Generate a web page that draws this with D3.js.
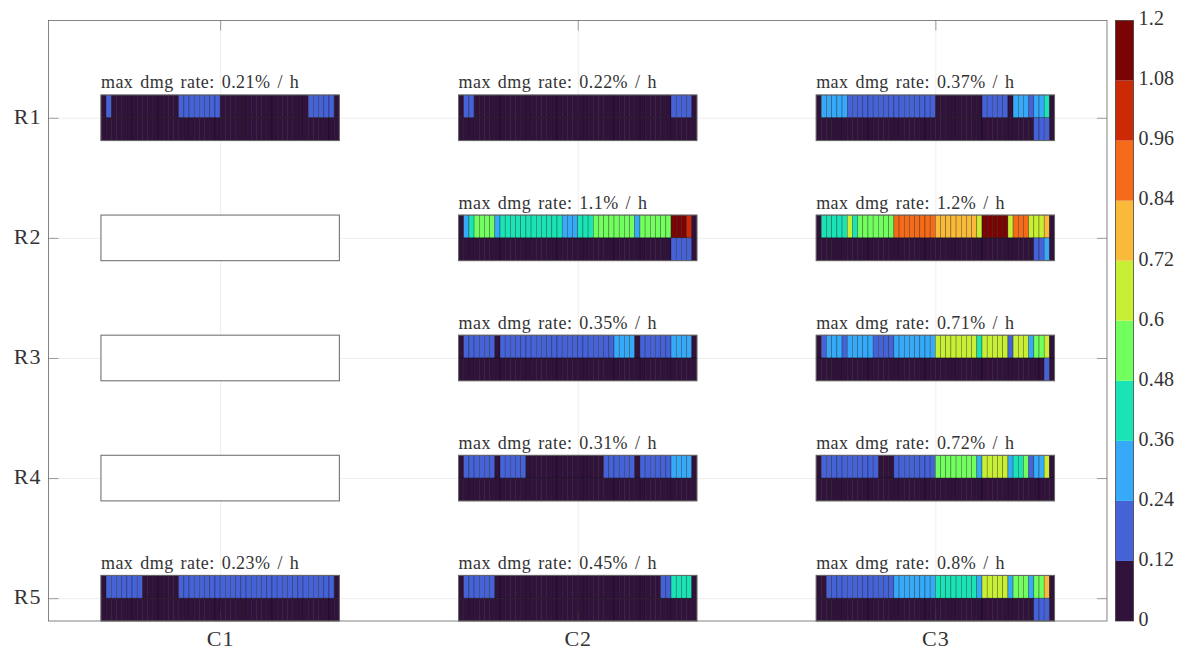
<!DOCTYPE html>
<html>
<head>
<meta charset="utf-8">
<script src="https://cdn.jsdelivr.net/npm/d3@7"></script>
<style>
  html, body { margin: 0; padding: 0; background: #fff; }
  text { font-family: "Liberation Serif", serif; fill: #333; }
  .grid line { stroke: #000; stroke-opacity: 0.07; }
  .axis path { display: none; }
  .axis line { stroke: #444; stroke-width: 0.5; }
  .axis text { font-size: 22px; letter-spacing: 1px; }
  .title { font-size: 18px; letter-spacing: 0.45px; word-spacing: 2px; }
  .cell { stroke: #000; stroke-opacity: 0.55; stroke-width: 0.5; }
  .outline { fill: none; stroke: #666; stroke-width: 1; }
  .cbar-label { font-size: 20px; letter-spacing: 0.2px; }
</style>
</head>
<body>
<div id="chart"></div>
<script>
const colNames = ['C1', 'C2', 'C3'];
const rowNames = ['R1', 'R2', 'R3', 'R4', 'R5'];
const colorTicks = [0, 0.12, 0.24, 0.36, 0.48, 0.6, 0.72, 0.84, 0.96, 1.08, 1.2];
const palette = ['#30123b', '#4662d7', '#36aaf9', '#1ae4b6', '#72fe5e',
  '#c8ef34', '#faba39', '#f66b19', '#cb2a04', '#7a0403'];

// one digit per cell = colour bin of the damage rate, top row then bottom row
const zeros = '0000000000000000000000000000000000000000000000';
const r1c1 = ['0100000000000001111111100000000000000000111110', zeros];
const r1c2 = ['0110000000000000000000000000000000000000011110', zeros];
const r1c3 = ['0222221111111111111111100000000011111022212230',
  '0000000000000000000000000000000000000000001110'];
const r2c2 = ['0234444233333333333322233344444444244444499980',
  '0000000000000000000000000000000000000000011110'];
const r2c3 = ['0333335344444447777777766666666599999577755560',
  '0000000000000000000000000000000000000000001120'];
const r3c2 = ['0111111011111111111111111111112222011111122220', zeros];
const r3c3 = ['0122212222211112222222255555555355555155524450',
  '0000000000000000000000000000000000000000000010'];
const r4c2 = ['0111111011111000000000000000111111011111122220', zeros];
const r4c3 = ['0111111111110001111111144444444255555233412250', zeros];
const r5c1 = ['0111111100000001111111111111111111111111111110', zeros];
const r5c2 = ['0111111000000000000000000000000000000001133330', zeros];
const r5c3 = ['0011111111111112222222233333333255555244424460',
  '0000000000000000000000000000000000000000001110'];

const grids = [
  [r1c1, r1c2, r1c3],
  [null, r2c2, r2c3],
  [null, r3c2, r3c3],
  [null, r4c2, r4c3],
  [r5c1, r5c2, r5c3],
];
const titles = [
  ['0.21', '0.22', '0.37'],
  [null, '1.1', '1.2'],
  [null, '0.35', '0.71'],
  [null, '0.31', '0.72'],
  ['0.23', '0.45', '0.8'],
];

const width = 1183, height = 651;
const margin = { top: 20.5, right: 76, bottom: 30, left: 48.5 };
const innerWidth = width - margin.left - margin.right;
const innerHeight = height - margin.top - margin.bottom;

const svg = d3.select('#chart').append('svg')
  .attr('width', width)
  .attr('height', height)
  .style('display', 'block');

const g = svg.append('g')
  .attr('transform', `translate(${margin.left},${margin.top})`);

const x = d3.scaleLinear().domain([0.52, 3.48]).range([0, innerWidth]);
const y = d3.scaleLinear().domain([0.19, 5.19]).range([0, innerHeight]);
const halfW = 1 / 3, halfH = 0.19;
const colTicks = colNames.map((d, i) => i + 1);
const rowTicks = rowNames.map((d, i) => i + 1);

const color = d3.scaleOrdinal().domain(d3.range(10)).range(palette);

const noLabels = (s) => s.selectAll('text').remove();

// grid
g.append('g').attr('class', 'grid')
  .attr('transform', `translate(0,${innerHeight})`)
  .call(d3.axisBottom(x).tickValues(colTicks).tickSize(-innerHeight))
  .call(noLabels)
  .select('.domain').remove();
g.append('g').attr('class', 'grid')
  .call(d3.axisLeft(y).tickValues(rowTicks).tickSize(-innerWidth))
  .call(noLabels)
  .select('.domain').remove();

// panels
grids.forEach((row, i) => {
  row.forEach((rows, j) => {
    const cx = j + 1, cy = i + 1;
    const px = d3.scaleLinear().domain([0, 46]).range([x(cx - halfW), x(cx + halfW)]);
    const py = d3.scaleLinear().domain([0, 2]).range([y(cy - halfH), y(cy + halfH)]);
    const panel = g.append('g').attr('class', 'panel');

    if (!rows) {
      panel.append('rect')
        .attr('x', px(0))
        .attr('y', py(0))
        .attr('width', px(46) - px(0))
        .attr('height', py(2) - py(0))
        .attr('fill', '#fff');
    } else {
      rows.forEach((levels, r) => {
        panel.selectAll(null)
          .data(Array.from(levels, Number))
          .join('rect')
          .attr('class', 'cell')
          .attr('x', (d, k) => px(k))
          .attr('y', py(r))
          .attr('width', px(1) - px(0))
          .attr('height', py(1) - py(0))
          .attr('fill', (d) => color(d));
      });
      panel.append('text')
        .attr('class', 'title')
        .attr('x', px(0))
        .attr('y', py(0) - 6.5)
        .text(`max dmg rate: ${titles[i][j]}% / h`);
    }

    panel.append('rect')
      .attr('class', 'outline')
      .attr('x', px(0))
      .attr('y', py(0))
      .attr('width', px(46) - px(0))
      .attr('height', py(2) - py(0));
  });
});

// Add the axes, ticks on all four sides
g.append('g').attr('class', 'axis')
  .attr('transform', `translate(0,${innerHeight})`)
  .call(d3.axisBottom(x).tickValues(colTicks).tickSize(-10).tickPadding(9)
    .tickFormat((d, i) => colNames[i]));
g.append('g').attr('class', 'axis')
  .call(d3.axisTop(x).tickValues(colTicks).tickSize(-10))
  .call(noLabels);
g.append('g').attr('class', 'axis')
  .call(d3.axisLeft(y).tickValues(rowTicks).tickSize(-10).tickPadding(7)
    .tickFormat((d, i) => rowNames[i]))
  .call((s) => s.selectAll('text').attr('dy', '0.25em'));
g.append('g').attr('class', 'axis')
  .attr('transform', `translate(${innerWidth},0)`)
  .call(d3.axisRight(y).tickValues(rowTicks).tickSize(-10))
  .call(noLabels);
g.append('rect')
  .attr('width', innerWidth)
  .attr('height', innerHeight)
  .attr('fill', 'none')
  .attr('stroke', '#666')
  .attr('stroke-width', 0.8);

// colorbar
const barX = 1115.5, barW = 18;
const barY = d3.scaleLinear().domain([0, 1.2]).range([margin.top + innerHeight, margin.top]);
const bar = svg.append('g').attr('class', 'colorbar');

bar.selectAll('rect')
  .data(palette)
  .join('rect')
  .attr('x', barX)
  .attr('y', (d, i) => barY(colorTicks[i + 1]))
  .attr('width', barW)
  .attr('height', (d, i) => barY(colorTicks[i]) - barY(colorTicks[i + 1]))
  .attr('fill', (d) => d);

bar.append('rect')
  .attr('x', barX)
  .attr('y', barY(1.2))
  .attr('width', barW)
  .attr('height', barY(0) - barY(1.2))
  .attr('fill', 'none')
  .attr('stroke', '#333')
  .attr('stroke-width', 0.7);

bar.selectAll('text')
  .data(colorTicks)
  .join('text')
  .attr('class', 'cbar-label')
  .attr('x', barX + barW + 5)
  .attr('y', (d) => barY(d))
  .attr('dy', '0.24em')
  .text((d) => d);
</script>
</body>
</html>
